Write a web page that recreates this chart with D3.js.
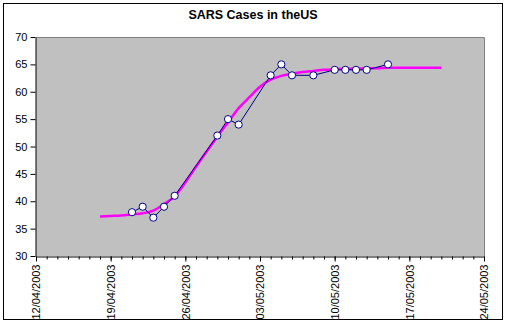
<!DOCTYPE html>
<html><head><meta charset="utf-8">
<script src="https://cdn.jsdelivr.net/npm/d3@7"></script>
<style>html,body{margin:0;padding:0;background:#fff;}svg{display:block;font-family:Arial,"Liberation Sans",sans-serif;}</style>
</head><body>
<script>
const title = "SARS Cases in theUS";
const obsDates = ["21/04/2003","22/04/2003","23/04/2003","24/04/2003","25/04/2003","29/04/2003","30/04/2003","01/05/2003","04/05/2003","05/05/2003","06/05/2003","08/05/2003","10/05/2003","11/05/2003","12/05/2003","13/05/2003","15/05/2003"];
const obsValues = [38,39,37,39,41,52,55,54,63,65,63,63,64,64,64,64,65];
const fitDates = ["18/04/2003","19/04/2003","20/04/2003","21/04/2003","22/04/2003","23/04/2003","24/04/2003","25/04/2003","26/04/2003","27/04/2003","28/04/2003","29/04/2003","30/04/2003","01/05/2003","02/05/2003","03/05/2003","04/05/2003","05/05/2003","06/05/2003","07/05/2003","08/05/2003","09/05/2003","10/05/2003","11/05/2003","12/05/2003","13/05/2003","14/05/2003","15/05/2003","16/05/2003","17/05/2003","18/05/2003","19/05/2003","20/05/2003"];
const fitValues = [37.2,37.3,37.4,37.6,37.8,38.3,39.5,40.9,43.4,46.3,49.1,51.8,54.4,57.0,59.0,60.9,62.2,62.9,63.3,63.6,63.8,64.0,64.1,64.2,64.2,64.3,64.3,64.4,64.4,64.4,64.4,64.4,64.4];
const xTickLabels = ["12/04/2003","19/04/2003","26/04/2003","03/05/2003","10/05/2003","17/05/2003","24/05/2003"];
const yTicks = [30,35,40,45,50,55,60,65,70];

const parse = d3.utcParse("%d/%m/%Y");
const W = 507, H = 325;
const svg = d3.select("body").append("svg").attr("width", W).attr("height", H);
svg.append("rect").attr("x",3.5).attr("y",3.5).attr("width",499).attr("height",316)
  .attr("fill","#fff").attr("stroke","#000").attr("stroke-width",1);

const L = 36, R = 484, T = 37, B = 256;
const x = d3.scaleUtc().domain([parse(xTickLabels[0]), parse(xTickLabels[xTickLabels.length-1])]).range([L, R]);
const y = d3.scaleLinear().domain([30,70]).range([B, T]);

svg.append("rect").attr("x",L).attr("y",T).attr("width",R-L).attr("height",B-T).attr("fill","#c0c0c0");
svg.append("path").attr("d",`M${L},${T+0.5}H${R+0.5}V${B}`).attr("fill","none").attr("stroke","#808080");

svg.append("text").attr("x",253).attr("y",19).attr("text-anchor","middle")
  .attr("font-size",12.5).attr("font-weight","bold").text(title);

// y axis
const ya = svg.append("g").attr("transform",`translate(${L-0.5},0)`)
  .call(d3.axisLeft(y).tickValues(yTicks).tickSize(5).tickSizeOuter(0).tickPadding(3));
ya.select(".domain").attr("stroke","#000");
ya.selectAll("text").attr("font-size",11).attr("fill","#000").attr("font-family","Arial, 'Liberation Sans', sans-serif");

// x axis minor ticks
const days = d3.utcDay.range(x.domain()[0], d3.utcDay.offset(x.domain()[1],1));
const xg = svg.append("g").attr("transform",`translate(0,${B+0.5})`);
xg.call(d3.axisBottom(x).tickValues(days).tickSize(3).tickFormat("").tickSizeOuter(0));
xg.select(".domain").remove();
const xa = svg.append("g").attr("transform",`translate(0,${B+0.5})`)
  .call(d3.axisBottom(x).tickValues(xTickLabels.map(parse)).tickSize(5).tickSizeOuter(0)
    .tickFormat(d3.utcFormat("%d/%m/%Y")));
xa.select(".domain").attr("stroke","#000");
xa.selectAll("text").attr("font-size",11).attr("fill","#000")
  .attr("font-family","Arial, 'Liberation Sans', sans-serif")
  .attr("transform","rotate(-90)").attr("text-anchor","end")
  .attr("x",-8).attr("y",0).attr("dy","0.35em");

// fitted curve
const fit = fitDates.map((d,i)=>({d:parse(d),v:fitValues[i]}));
svg.append("path").datum(fit).attr("fill","none").attr("stroke","#ff00ff").attr("stroke-width",2.5)
  .attr("d", d3.line().x(d=>x(d.d)).y(d=>y(d.v)).curve(d3.curveMonotoneX));

// observed
const obs = obsDates.map((d,i)=>({d:parse(d),v:obsValues[i]}));
svg.append("path").datum(obs).attr("fill","none").attr("stroke","#000080").attr("stroke-width",1)
  .attr("d", d3.line().x(d=>x(d.d)).y(d=>y(d.v)));
svg.selectAll("circle.pt").data(obs).join("circle").attr("class","pt")
  .attr("cx",d=>x(d.d)).attr("cy",d=>y(d.v)).attr("r",3.6)
  .attr("fill","#fff").attr("stroke","#000080").attr("stroke-width",1);
</script>
</body></html>
